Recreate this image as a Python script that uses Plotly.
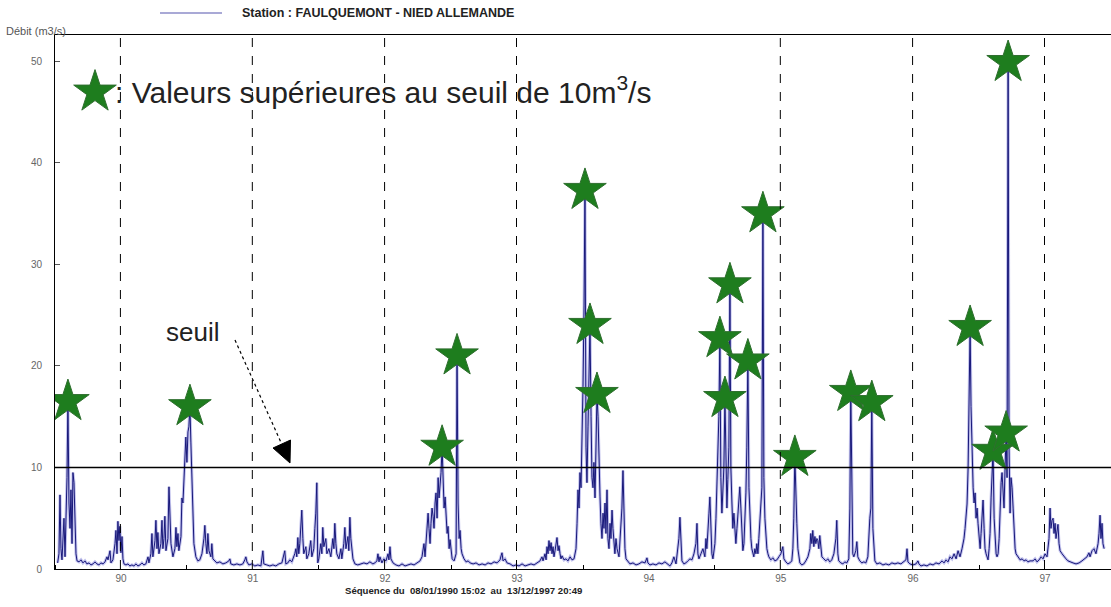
import pandas as pd
import plotly.graph_objects as go

# Débit journalier (m3/s), station Faulquemont - Nied Allemande.
# Each year: position within the year (fraction) and flow value.
f_1990 = [0.020, 0.030, 0.038, 0.045, 0.053, 0.061, 0.068, 0.076, 0.083, 0.091, 0.098, 0.106, 0.114, 0.121,
          0.129, 0.136, 0.144, 0.152, 0.159, 0.167, 0.182, 0.197, 0.212, 0.227, 0.242, 0.258, 0.273, 0.288,
          0.303, 0.318, 0.333, 0.348, 0.364, 0.379, 0.394, 0.402, 0.417, 0.424, 0.439, 0.455, 0.462, 0.470,
          0.477, 0.485, 0.492, 0.500, 0.508, 0.515, 0.523, 0.538, 0.553, 0.568, 0.583, 0.598, 0.614, 0.629,
          0.644, 0.659, 0.674, 0.689, 0.705, 0.712, 0.727, 0.735, 0.742, 0.758, 0.765, 0.773, 0.780, 0.788,
          0.803, 0.811, 0.818, 0.826, 0.833, 0.841, 0.856, 0.864, 0.871, 0.879, 0.894, 0.909, 0.917, 0.924,
          0.932, 0.939, 0.955, 0.962, 0.970, 0.977, 0.985, 0.992]
q_1990 = [0.6, 1.5, 7.3, 2.0, 0.9, 3.5, 5.0, 1.2, 4.0, 9.0, 16.5, 6.5, 4.0, 7.8,
          2.5, 9.5, 8.5, 3.0, 1.5, 0.8, 0.7, 0.9, 0.6, 0.8, 0.5, 0.6, 0.4, 0.5,
          0.7, 0.5, 0.4, 0.6, 0.5, 0.7, 1.2, 0.9, 1.8, 0.6, 0.9, 2.5, 3.8, 1.5,
          4.7, 2.8, 4.2, 1.6, 3.2, 1.0, 0.5, 0.4, 0.5, 0.3, 0.4, 0.3, 0.5, 0.3,
          0.4, 0.6, 0.4, 0.5, 1.2, 0.6, 1.5, 3.5, 1.2, 2.8, 4.8, 2.0, 3.6, 1.5,
          2.5, 4.8, 2.0, 3.0, 5.2, 1.8, 3.0, 8.1, 5.0, 2.5, 1.2, 2.0, 4.1, 2.2,
          3.5, 1.8, 3.2, 7.0, 6.5, 9.0, 11.0, 13.0]

f_1991 = [0.000, 0.008, 0.015, 0.023, 0.030, 0.038, 0.045, 0.053, 0.068, 0.083, 0.098, 0.114, 0.129, 0.136,
          0.144, 0.152, 0.159, 0.167, 0.182, 0.189, 0.197, 0.212, 0.227, 0.250, 0.273, 0.295, 0.318, 0.326,
          0.333, 0.356, 0.379, 0.402, 0.424, 0.439, 0.447, 0.455, 0.470, 0.492, 0.515, 0.538, 0.561, 0.576,
          0.583, 0.606, 0.629, 0.652, 0.674, 0.697, 0.720, 0.742, 0.750, 0.765, 0.780, 0.795, 0.818, 0.826,
          0.833, 0.841, 0.848, 0.856, 0.871, 0.879, 0.886, 0.902, 0.909, 0.924, 0.939, 0.947, 0.962, 0.970,
          0.977, 0.985, 0.992]
q_1991 = [10.5, 13.5, 14.0, 16.0, 12.5, 8.0, 5.0, 2.5, 1.2, 0.8, 0.9, 1.5, 3.0, 4.3,
          2.5, 1.5, 3.5, 1.8, 1.2, 2.5, 1.0, 0.8, 0.6, 0.7, 0.5, 0.6, 0.8, 1.0,
          0.5, 0.4, 0.5, 0.4, 0.5, 0.9, 1.2, 0.7, 0.4, 0.5, 0.3, 0.4, 0.3, 1.8,
          0.5, 0.4, 0.3, 0.4, 0.3, 0.5, 0.6, 1.8, 0.5, 0.6, 0.9, 0.7, 1.5, 2.0,
          1.2, 3.1, 1.5, 2.5, 5.8, 3.0, 1.5, 2.2, 1.0, 1.5, 2.8, 1.2, 2.0, 4.0,
          5.5, 8.5, 0.6]

f_1992 = [0.000, 0.015, 0.023, 0.030, 0.038, 0.053, 0.061, 0.076, 0.091, 0.106, 0.114, 0.121, 0.129, 0.136,
          0.152, 0.167, 0.174, 0.189, 0.197, 0.205, 0.220, 0.227, 0.235, 0.242, 0.258, 0.273, 0.295, 0.318,
          0.341, 0.364, 0.386, 0.409, 0.424, 0.439, 0.447, 0.455, 0.462, 0.477, 0.492, 0.508, 0.523, 0.530,
          0.538, 0.545, 0.561, 0.583, 0.606, 0.629, 0.652, 0.674, 0.697, 0.720, 0.742, 0.765, 0.780, 0.795,
          0.803, 0.818, 0.826, 0.833, 0.841, 0.848, 0.856, 0.864, 0.871, 0.879, 0.886, 0.894, 0.902, 0.909,
          0.917, 0.924, 0.932, 0.939, 0.947, 0.955, 0.962, 0.970, 0.977, 0.985, 0.992]
q_1992 = [1.0, 2.5, 1.5, 4.1, 2.2, 3.0, 1.5, 2.0, 1.2, 3.0, 2.0, 4.5, 2.5, 1.5,
          1.0, 2.0, 1.0, 2.5, 4.1, 2.0, 3.2, 1.8, 5.1, 3.0, 1.0, 0.5, 0.4, 0.5,
          0.6, 0.5, 0.7, 0.5, 0.6, 0.8, 1.5, 0.7, 1.2, 0.6, 1.0, 0.8, 1.5, 0.9,
          2.2, 1.0, 0.6, 0.4, 0.3, 0.5, 0.3, 0.4, 0.5, 0.4, 0.6, 0.8, 1.2, 2.5,
          1.2, 3.5, 5.5, 4.0, 2.5, 4.5, 6.0, 5.2, 4.0, 6.5, 7.5, 5.0, 9.0, 7.0,
          8.2, 9.5, 12.0, 8.0, 6.0, 7.1, 4.5, 3.5, 4.2, 2.0, 2.9]

f_1993 = [0.000, 0.008, 0.023, 0.038, 0.045, 0.053, 0.061, 0.068, 0.076, 0.083, 0.098, 0.114, 0.129, 0.144,
          0.167, 0.189, 0.212, 0.235, 0.258, 0.280, 0.303, 0.326, 0.348, 0.371, 0.379, 0.386, 0.394, 0.409,
          0.424, 0.447, 0.470, 0.492, 0.515, 0.538, 0.561, 0.583, 0.606, 0.629, 0.652, 0.674, 0.689, 0.697,
          0.712, 0.720, 0.727, 0.735, 0.742, 0.750, 0.758, 0.765, 0.773, 0.780, 0.788, 0.795, 0.803, 0.811,
          0.818, 0.826, 0.833, 0.841, 0.856, 0.871, 0.886, 0.902, 0.917, 0.932, 0.947, 0.955, 0.962, 0.970,
          0.977, 0.985, 0.992]
q_1993 = [1.5, 1.0, 0.8, 1.5, 21.0, 6.5, 3.0, 3.8, 2.0, 1.5, 1.0, 0.7, 0.8, 0.6,
          0.5, 0.6, 0.4, 0.5, 0.4, 0.6, 0.5, 0.7, 0.6, 0.9, 1.3, 1.6, 0.8, 1.0,
          0.6, 0.5, 0.3, 0.4, 0.3, 0.5, 0.3, 0.4, 0.5, 0.4, 0.6, 0.8, 1.2, 0.8,
          1.5, 0.9, 2.2, 1.5, 2.8, 1.8, 2.6, 1.5, 2.2, 1.2, 1.8, 2.5, 3.1, 1.8,
          2.3, 1.5, 1.0, 1.3, 0.9, 1.0, 0.8, 1.2, 0.9, 1.0, 2.0, 4.5, 7.8, 6.0,
          9.5, 8.0, 12.0]

f_1994 = [0.000, 0.008, 0.015, 0.023, 0.030, 0.038, 0.045, 0.053, 0.061, 0.068, 0.076, 0.083, 0.091, 0.098,
          0.106, 0.114, 0.121, 0.129, 0.136, 0.144, 0.152, 0.159, 0.167, 0.174, 0.182, 0.189, 0.197, 0.205,
          0.212, 0.220, 0.227, 0.235, 0.242, 0.250, 0.258, 0.273, 0.288, 0.295, 0.303, 0.311, 0.318, 0.326,
          0.341, 0.356, 0.379, 0.402, 0.424, 0.447, 0.470, 0.485, 0.492, 0.508, 0.530, 0.553, 0.576, 0.598,
          0.621, 0.644, 0.659, 0.674, 0.689, 0.705, 0.720, 0.727, 0.735, 0.742, 0.750, 0.765, 0.780, 0.795,
          0.811, 0.826, 0.841, 0.856, 0.864, 0.871, 0.879, 0.894, 0.909, 0.924, 0.932, 0.939, 0.947, 0.955,
          0.962, 0.970, 0.977, 0.985]
q_1994 = [18.0, 26.0, 37.3, 12.0, 8.5, 14.0, 20.0, 24.0, 15.0, 9.0, 8.0, 10.5, 7.0, 12.0,
          17.2, 15.0, 10.0, 7.1, 4.5, 3.0, 5.5, 4.0, 6.5, 3.5, 7.8, 3.0, 2.0, 4.5,
          3.0, 5.8, 4.0, 2.0, 1.5, 3.0, 2.0, 1.2, 4.5, 6.0, 9.7, 5.0, 2.0, 1.0,
          0.7, 0.5, 0.6, 0.4, 0.5, 0.7, 0.6, 1.1, 0.6, 0.4, 0.5, 0.4, 0.6, 0.5,
          0.7, 0.4, 0.3, 0.6, 1.2, 0.5, 2.0, 3.0, 5.1, 2.0, 0.8, 0.5, 0.6, 0.8,
          1.0, 0.9, 1.5, 2.5, 4.5, 1.5, 1.0, 1.5, 2.0, 1.2, 3.0, 2.0, 4.5, 5.5,
          7.1, 3.5, 1.5, 1.0]

f_1995 = [0.000, 0.008, 0.015, 0.023, 0.030, 0.038, 0.045, 0.053, 0.061, 0.068, 0.076, 0.083, 0.091, 0.098,
          0.106, 0.114, 0.121, 0.129, 0.136, 0.144, 0.152, 0.159, 0.167, 0.174, 0.182, 0.189, 0.197, 0.205,
          0.212, 0.220, 0.227, 0.235, 0.242, 0.250, 0.258, 0.265, 0.273, 0.280, 0.288, 0.295, 0.303, 0.311,
          0.318, 0.326, 0.333, 0.341, 0.348, 0.356, 0.364, 0.371, 0.379, 0.386, 0.394, 0.402, 0.409, 0.424,
          0.439, 0.455, 0.470, 0.485, 0.500, 0.515, 0.523, 0.538, 0.553, 0.568, 0.583, 0.591, 0.598, 0.606,
          0.614, 0.621, 0.629, 0.636, 0.644, 0.659, 0.674, 0.689, 0.705, 0.720, 0.727, 0.735, 0.742, 0.750,
          0.758, 0.765, 0.773, 0.780, 0.788, 0.795, 0.803, 0.811, 0.826, 0.841, 0.856, 0.871, 0.886, 0.902,
          0.917, 0.924, 0.932, 0.939, 0.955, 0.970, 0.985]
q_1995 = [2.5, 5.0, 8.0, 10.5, 15.0, 22.7, 9.0, 5.5, 8.0, 10.0, 16.8, 9.5, 6.0, 8.8,
          12.0, 28.0, 10.0, 6.5, 4.0, 5.5, 3.0, 2.5, 4.0, 5.5, 6.5, 8.1, 6.0, 3.0,
          1.8, 2.5, 4.5, 7.5, 12.0, 20.5, 8.0, 4.5, 3.0, 2.0, 1.5, 1.2, 2.0, 1.5,
          2.5, 1.5, 3.0, 5.0, 7.1, 8.0, 35.0, 9.0, 5.0, 3.0, 2.0, 1.5, 1.2, 0.9,
          1.1, 0.8, 0.9, 1.2, 1.5, 2.2, 1.0, 0.7, 0.5, 0.6, 0.8, 2.0, 5.0, 11.0,
          6.0, 4.5, 2.0, 1.0, 0.6, 0.4, 0.5, 0.8, 1.2, 2.0, 3.5, 2.5, 3.8, 2.2,
          3.2, 2.5, 3.0, 2.8, 2.0, 3.3, 1.8, 1.2, 1.0, 0.8, 1.0, 0.7, 0.9, 1.5,
          3.0, 4.8, 1.5, 0.8, 0.6, 0.5, 0.7]

f_1996 = [0.000, 0.015, 0.023, 0.030, 0.038, 0.045, 0.053, 0.068, 0.076, 0.083, 0.098, 0.114, 0.129, 0.144,
          0.159, 0.167, 0.174, 0.182, 0.189, 0.197, 0.205, 0.212, 0.227, 0.250, 0.273, 0.295, 0.318, 0.341,
          0.364, 0.386, 0.409, 0.432, 0.447, 0.455, 0.462, 0.477, 0.500, 0.523, 0.538, 0.545, 0.561, 0.583,
          0.606, 0.629, 0.652, 0.674, 0.697, 0.720, 0.735, 0.750, 0.765, 0.780, 0.795, 0.811, 0.826, 0.841,
          0.856, 0.871, 0.886, 0.894, 0.902, 0.909, 0.917, 0.924, 0.932, 0.939, 0.947, 0.955, 0.962, 0.970,
          0.977, 0.985, 0.992]
q_1996 = [0.6, 1.0, 6.0, 17.4, 5.0, 1.5, 1.2, 1.8, 2.7, 1.2, 0.8, 0.6, 0.7, 0.6,
          1.2, 3.5, 5.0, 6.0, 16.4, 4.0, 1.5, 0.8, 0.5, 0.6, 0.4, 0.5, 0.4, 0.6,
          0.5, 0.6, 0.5, 0.7, 0.9, 2.0, 0.7, 0.5, 0.4, 0.5, 0.8, 0.5, 0.3, 0.4,
          0.3, 0.5, 0.4, 0.6, 0.5, 0.8, 0.6, 0.9, 0.7, 1.2, 1.0, 1.5, 1.0, 1.8,
          1.2, 2.0, 3.0, 4.0, 5.0, 6.4, 10.0, 16.5, 23.8, 16.0, 11.0, 8.0, 6.5, 7.5,
          5.0, 6.0, 4.5]

f_1997 = [0.000, 0.008, 0.015, 0.023, 0.030, 0.038, 0.045, 0.053, 0.061, 0.068, 0.076, 0.083, 0.091, 0.098,
          0.106, 0.114, 0.121, 0.129, 0.136, 0.144, 0.152, 0.159, 0.167, 0.174, 0.182, 0.189, 0.197, 0.205,
          0.212, 0.220, 0.227, 0.235, 0.242, 0.250, 0.258, 0.265, 0.273, 0.280, 0.295, 0.311, 0.326, 0.341,
          0.356, 0.371, 0.386, 0.409, 0.424, 0.439, 0.455, 0.470, 0.485, 0.500, 0.515, 0.523, 0.530, 0.538,
          0.545, 0.553, 0.561, 0.568, 0.576, 0.583, 0.591, 0.598, 0.606, 0.614, 0.629, 0.644, 0.659, 0.674,
          0.689, 0.712, 0.735, 0.758, 0.780, 0.803, 0.818, 0.833, 0.841, 0.856, 0.871, 0.886, 0.902, 0.909,
          0.917, 0.924, 0.932, 0.939, 0.948]
q_1997 = [3.0, 2.0, 3.5, 5.0, 6.8, 4.0, 2.0, 1.5, 1.0, 0.9, 2.0, 3.5, 7.0, 9.0,
          11.6, 5.0, 2.5, 1.5, 1.2, 1.5, 3.0, 6.0, 8.5, 9.5, 8.0, 6.0, 10.0, 13.4,
          9.0, 49.9, 12.0, 5.5, 9.0, 8.0, 6.0, 3.0, 2.0, 1.5, 1.2, 0.9, 1.0, 0.8,
          0.9, 0.7, 0.8, 0.8, 1.0, 0.7, 0.9, 1.2, 1.0, 1.5, 1.2, 2.0, 3.0, 6.0,
          4.0, 4.8, 5.0, 3.5, 4.5, 3.0, 3.8, 4.4, 2.5, 1.8, 1.5, 1.2, 1.0, 0.8,
          0.7, 0.6, 0.5, 0.6, 0.8, 1.0, 1.2, 1.6, 1.2, 1.8, 2.0, 1.5, 2.5, 3.5,
          5.3, 3.0, 4.5, 2.5, 2.0]

# Flood peaks above the threshold (year, fraction of year)
pic_annee = [1990, 1991, 1992, 1993, 1994, 1994, 1994, 1995, 1995, 1995,
             1995, 1995, 1995, 1996, 1996, 1996, 1997, 1997, 1997]
pic_frac = [0.098, 0.023, 0.932, 0.045, 0.015, 0.053, 0.106, 0.038, 0.076, 0.114,
            0.250, 0.364, 0.606, 0.030, 0.189, 0.932, 0.106, 0.205, 0.220]

SEUIL = 10  # m3/s
ANNEES = [1990, 1991, 1992, 1993, 1994, 1995, 1996, 1997]
ANNEES_TIRETS = [1990, 1991, 1992, 1993, 1995, 1996, 1997]

X_DEBUT, X_FIN = pd.Timestamp("1990-01-01"), pd.Timestamp("1998-01-01")
Y_MAX = 52.6

fractions = [f_1990, f_1991, f_1992, f_1993, f_1994, f_1995, f_1996, f_1997]
debits = [q_1990, q_1991, q_1992, q_1993, q_1994, q_1995, q_1996, q_1997]


def vers_date(annee, frac):
    debut = pd.Timestamp(year=annee, month=1, day=1)
    jours = 366 if pd.Timestamp(year=annee, month=12, day=31).dayofyear == 366 else 365
    return debut + pd.Timedelta(days=frac * jours)


dates, valeurs = [], []
lookup = {}
for annee, fs, qs in zip(ANNEES, fractions, debits):
    assert len(fs) == len(qs), annee
    for f, q in zip(fs, qs):
        dates.append(vers_date(annee, f))
        valeurs.append(q)
        lookup[(annee, round(f, 3))] = q

pic_dates = [vers_date(a, f) for a, f in zip(pic_annee, pic_frac)]
pic_valeurs = [lookup[(a, round(f, 3))] for a, f in zip(pic_annee, pic_frac)]

POLICE = "Liberation Sans, Arial, sans-serif"
VERT = "#1e7d1e"
ETOILE = dict(symbol="star", size=32, color=VERT, line=dict(color="#2f6e2f", width=1))

# plot area in pixels, used to place the free-standing decorations
L, T, W, H = 55, 35, 1056, 534


def px(x, y):
    return (x - L) / W, (T + H - y) / H


def px_data(x, y):
    fx, fy = px(x, y)
    return X_DEBUT + (X_FIN - X_DEBUT) * fx, fy * Y_MAX


fig = go.Figure()

# soft halo under the hydrograph
fig.add_trace(go.Scatter(x=dates, y=valeurs, mode="lines",
                         line=dict(color="rgba(120,120,215,0.45)", width=3),
                         hoverinfo="skip", showlegend=False))
fig.add_trace(go.Scatter(x=dates, y=valeurs, mode="lines",
                         line=dict(color="#18187a", width=1),
                         name="Station : FAULQUEMONT - NIED ALLEMANDE", showlegend=False))

# threshold
fig.add_shape(type="line", xref="x domain", yref="y", x0=0, x1=1, y0=SEUIL, y1=SEUIL,
              line=dict(color="black", width=1.5))

# mid-year dashed lines
for a in ANNEES_TIRETS:
    xm = pd.Timestamp(year=a, month=7, day=1)
    fig.add_shape(type="line", xref="x", yref="y domain", x0=xm, x1=xm, y0=0, y1=1,
                  line=dict(color="black", width=1, dash="dash"), layer="above")

fig.add_trace(go.Scatter(x=pic_dates, y=pic_valeurs, mode="markers", marker=ETOILE,
                         showlegend=False))

# key star next to its caption
kx, ky = px_data(95, 92)
fig.add_trace(go.Scatter(x=[kx], y=[ky], mode="markers", marker=ETOILE,
                         showlegend=False, hoverinfo="skip"))

tx, ty = px(113, 90)
fig.add_annotation(xref="paper", yref="paper", x=tx, y=ty, xanchor="left", yanchor="middle",
                   text=": Valeurs supérieures au seuil de 10m<sup>3</sup>/s", showarrow=False,
                   font=dict(family=POLICE, size=30, color="#222"))

sx, sy = px(164, 332)
fig.add_annotation(xref="paper", yref="paper", x=sx, y=sy, xanchor="left", yanchor="middle",
                   text="seuil", showarrow=False, font=dict(family=POLICE, size=26, color="#222"))

# arrow from the "seuil" label down to the threshold line
x0, y0 = px(235, 340)
x1, y1 = px(283, 447)
fig.add_shape(type="line", xref="paper", yref="paper", x0=x0, y0=y0, x1=x1, y1=y1,
              line=dict(color="black", width=1.2, dash="dot"))
p_tip, p_a, p_b = px(290, 463), px(290.5, 440), px(273, 448)
fig.add_shape(type="path", xref="paper", yref="paper",
              path=f"M {p_tip[0]} {p_tip[1]} L {p_a[0]} {p_a[1]} L {p_b[0]} {p_b[1]} Z",
              fillcolor="black", line=dict(color="black", width=1))

# series key at the top
a0, ay = px(160, 13)
a1, _ = px(222, 13)
fig.add_shape(type="line", xref="paper", yref="paper", x0=a0, x1=a1, y0=ay, y1=ay,
              line=dict(color="#8c8cc8", width=1.5))
sx2, _ = px(240, 13)
fig.add_annotation(xref="paper", yref="paper", x=sx2, y=ay, xanchor="left", yanchor="middle",
                   text="<b>Station : FAULQUEMONT - NIED ALLEMANDE</b>", showarrow=False,
                   font=dict(family=POLICE, size=12.5, color="#222"))

dx, dy = px(4, 31)
fig.add_annotation(xref="paper", yref="paper", x=dx, y=dy, xanchor="left", yanchor="middle",
                   text="Débit (m3/s)", showarrow=False, font=dict(family=POLICE, size=11, color="#555"))

qx, qy = px(463, 590)
fig.add_annotation(xref="paper", yref="paper", x=qx, y=qy, xanchor="center", yanchor="middle",
                   text="<b>Séquence du  08/01/1990 15:02  au  13/12/1997 20:49</b>", showarrow=False,
                   font=dict(family=POLICE, size=9.6, color="#222"))

fig.update_layout(
    width=1111, height=607,
    margin=dict(l=L, r=1111 - L - W, t=T, b=607 - T - H),
    paper_bgcolor="white", plot_bgcolor="white",
    font=dict(family=POLICE),
    xaxis=dict(type="date", range=[X_DEBUT, X_FIN],
               tick0="1990-01-01", dtick="M12", tickformat="%y", ticklabelmode="period",
               ticks="inside", ticklen=4, tickcolor="black",
               showgrid=False, zeroline=False, showline=True, linecolor="black", linewidth=1,
               mirror=True, tickfont=dict(size=10, color="#666")),
    yaxis=dict(range=[0, Y_MAX], tickvals=[0, 10, 20, 30, 40, 50],
               ticks="inside", ticklen=5, tickcolor="#555", ticklabelstandoff=10,
               showgrid=False, zeroline=False, showline=True, linecolor="black", linewidth=1,
               tickfont=dict(size=10, color="#666")),
)

fig.write_html("out.html")
